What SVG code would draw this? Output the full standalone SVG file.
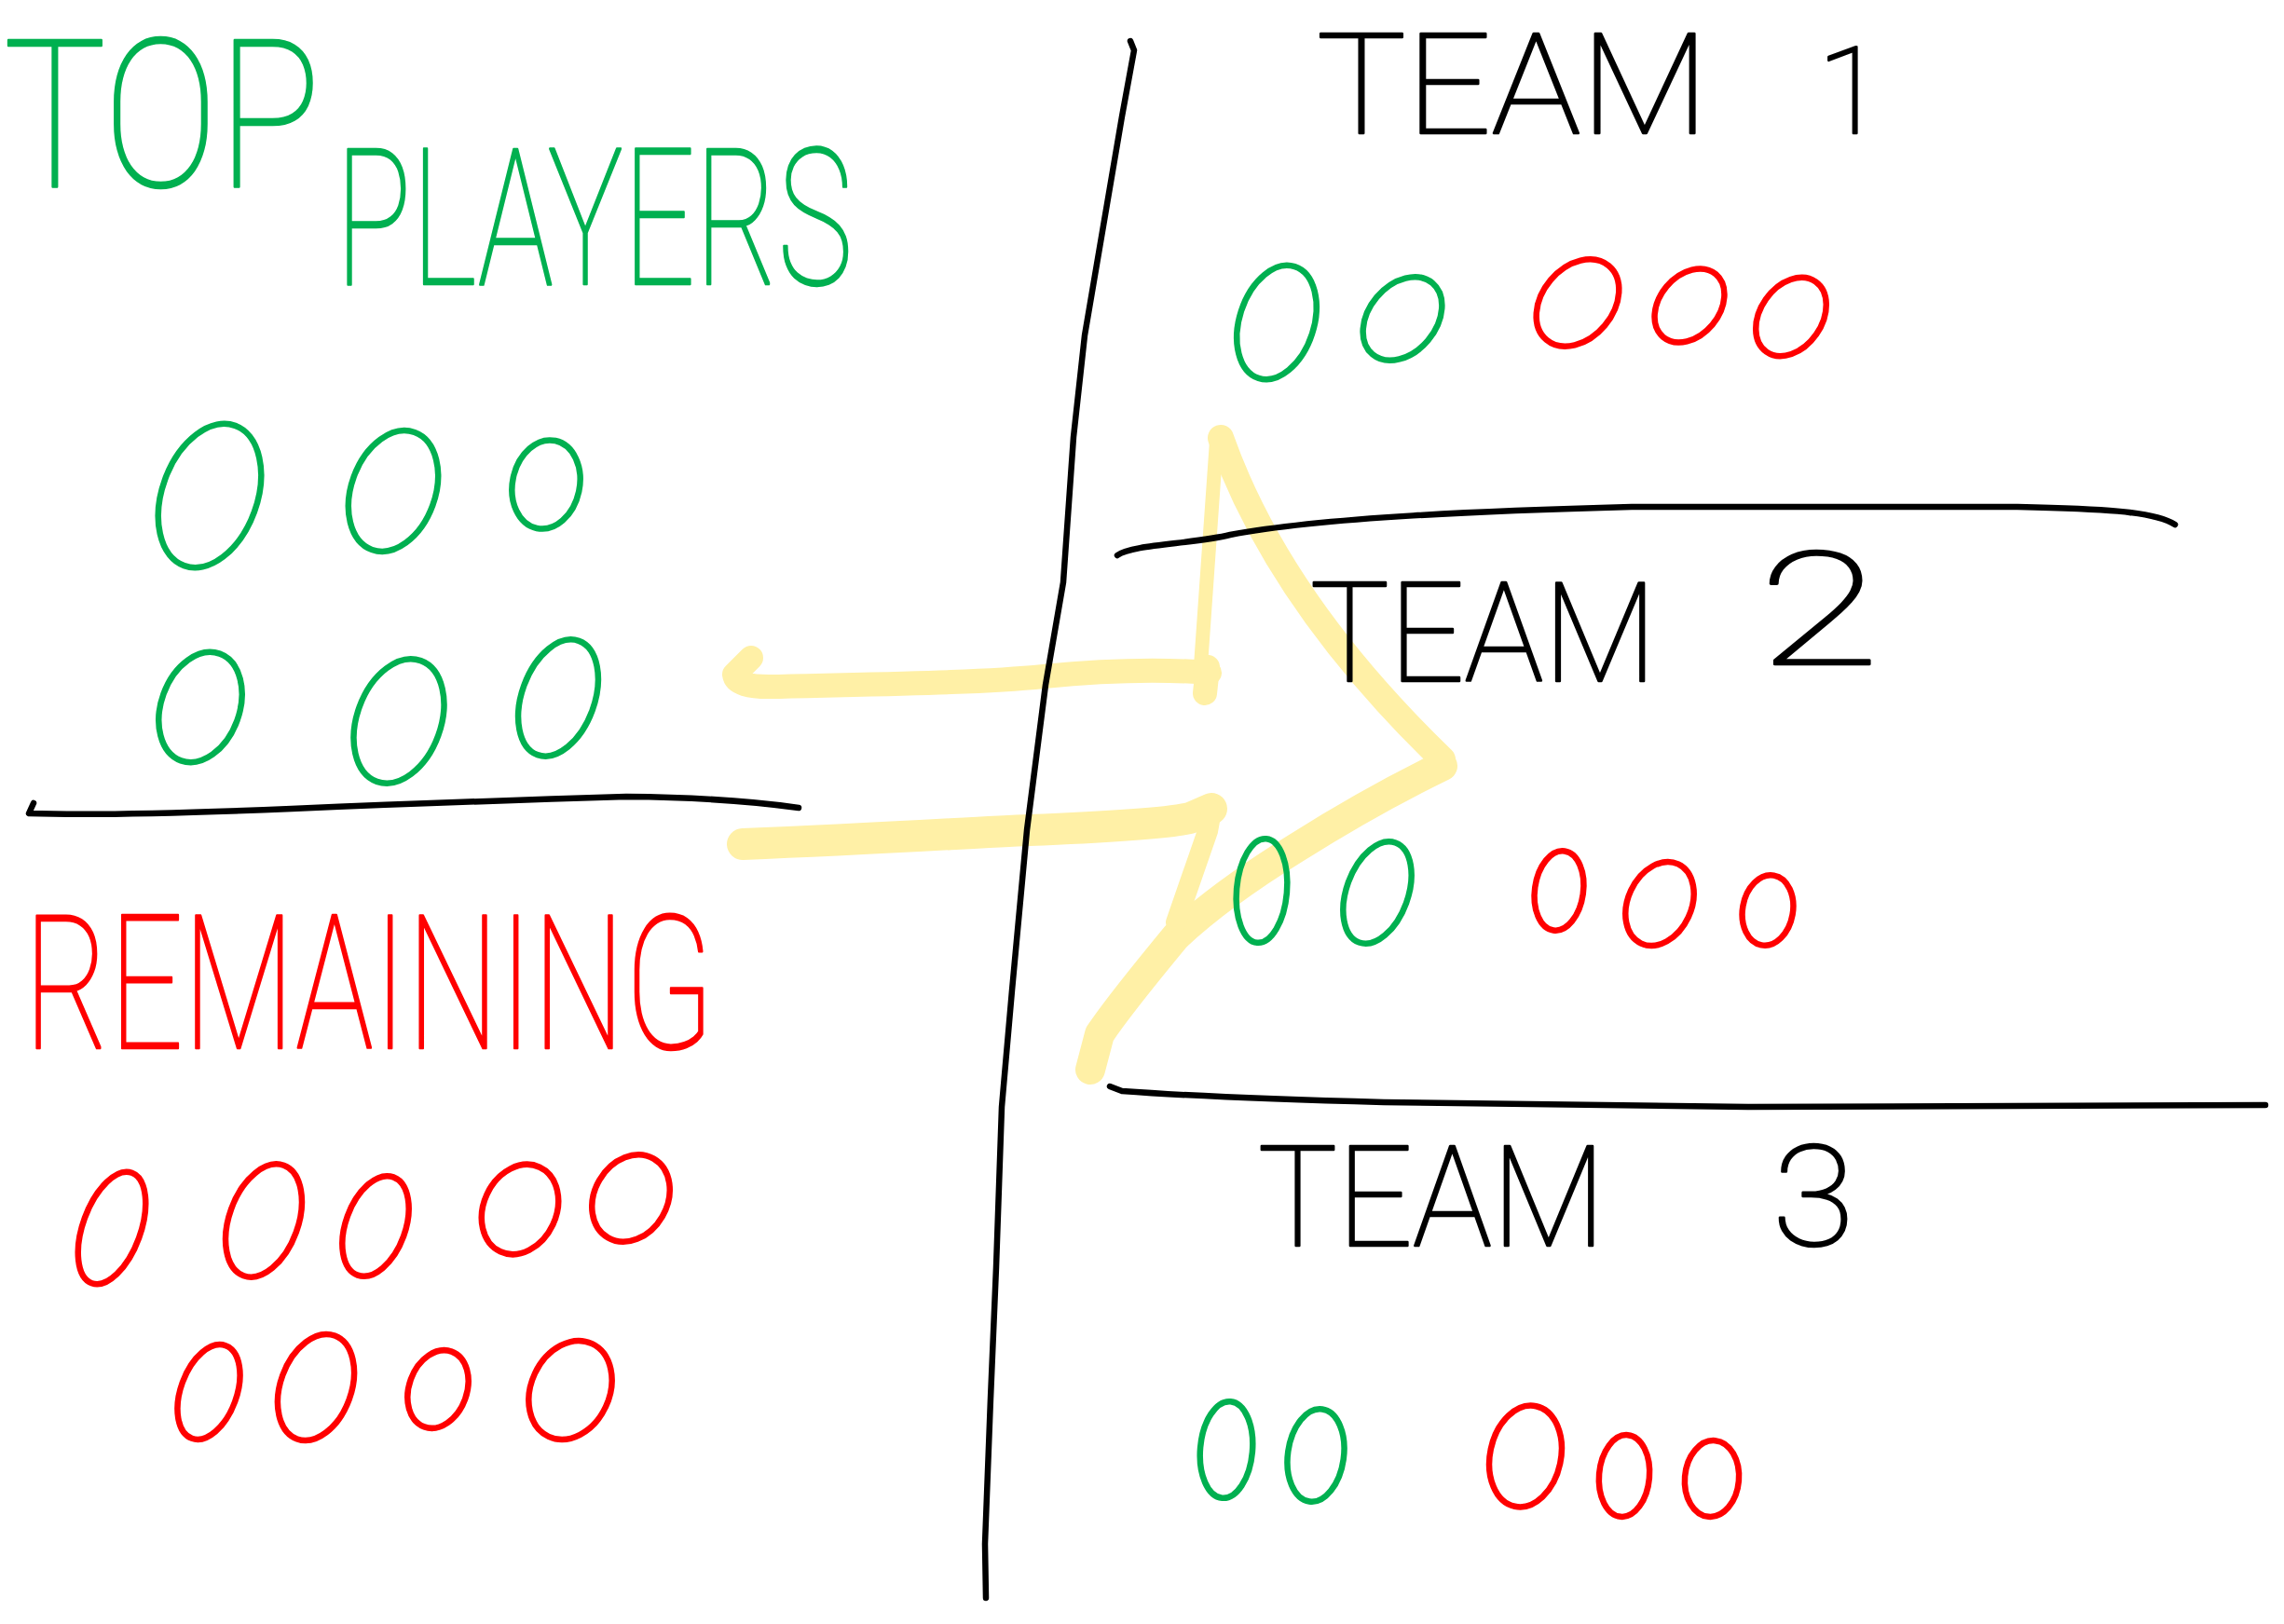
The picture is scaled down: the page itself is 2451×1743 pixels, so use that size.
<svg xmlns="http://www.w3.org/2000/svg" width="2451" height="1743" viewBox="0 0 2451 1743">
<style>
.hand{font-family:Roboto,Lato,Inter,"Liberation Sans",sans-serif;font-weight:100;stroke-width:2.6;stroke-linejoin:round;}
.g{fill:#00B050;stroke:#00B050;}
.r{fill:#FF0000;stroke:#FF0000;}
.k{fill:#000000;stroke:#000000;}
.gc{fill:none;stroke:#00B050;stroke-width:6.5;}
.rc{fill:none;stroke:#FF0000;stroke-width:6.5;}
.line{fill:none;stroke:#000;stroke-width:6.5;stroke-linecap:round;stroke-linejoin:round;}
.hl{fill:none;stroke:#FFF0A6;stroke-linecap:round;stroke-linejoin:round;}
</style>
<rect width="2451" height="1743" fill="#FFFFFF"/>

<g id="connectors">
  <path class="hl" stroke-width="26" d="M806,706 L788,724 Q790,738 830,737 C950,734 1050,733 1120,726 C1200,718 1260,719 1298,722"/>
  <path class="hl" stroke-width="26" d="M1296,716 L1293,744"/>
  <path class="hl" stroke-width="15" d="M1306,466 L1288,722"/>
  <path class="hl" stroke-width="28" d="M1310,470 Q1372,645 1548,815"/>
  <path class="hl" stroke-width="32" d="M1548,822 Q1470,860 1391,910 Q1310,960 1262,1005 Q1200,1080 1180,1110 L1170,1148"/>
  <path class="hl" stroke-width="34" d="M797,906 C950,900 1050,893 1104,891 C1180,888 1250,884 1277,878 L1300,868"/>
  <path class="hl" stroke-width="22" d="M1300,870 L1296,892 L1262,990"/>
</g>

<g id="dividers">
  <path class="line" d="M1213,44 L1217,54 L1204,125 L1188,219 L1164,360 L1152,469 L1141,625 L1122,735 L1102,891 L1086,1063 L1075,1188 L1069,1360 L1063,1501 L1057,1657 L1058,1715"/>
  <path class="line" d="M36,862 L31,873 Q120,876 313,868 T672,855 Q780,856 857,867"/>
  <path class="line" d="M1199,596 C1215,584 1280,584 1320,574 C1420,555 1600,548 1751,544 L2165,544 C2250,546 2310,548 2334,563"/>
  <path class="line" d="M1191,1166 L1204,1171 Q1300,1178 1485,1183 L1876,1188 L2431,1186"/>
</g>

<g id="top-players">
  <text class="hand g" x="4" y="200" font-size="220" textLength="340" lengthAdjust="spacingAndGlyphs">TOP</text>
  <text class="hand g" x="360" y="305" font-size="204" textLength="555" lengthAdjust="spacingAndGlyphs">PLAYERS</text>
  <ellipse class="gc" cx="225" cy="532" rx="51" ry="80" transform="rotate(20 225 532)"/>
  <ellipse class="gc" cx="422" cy="527" rx="45" ry="67" transform="rotate(20 422 527)"/>
  <ellipse class="gc" cx="586" cy="520" rx="36" ry="48" transform="rotate(12 586 520)"/>
  <ellipse class="gc" cx="215" cy="759" rx="42" ry="61" transform="rotate(20 215 759)"/>
  <ellipse class="gc" cx="428" cy="774" rx="45" ry="69" transform="rotate(20 428 774)"/>
  <ellipse class="gc" cx="599" cy="749" rx="39" ry="65" transform="rotate(20 599 749)"/>
</g>

<g id="remaining">
  <text class="hand r" x="26" y="1125" font-size="200" textLength="740" lengthAdjust="spacingAndGlyphs">REMAINING</text>
  <ellipse class="rc" cx="120" cy="1318" rx="31" ry="63" transform="rotate(20 120 1318)"/>
  <ellipse class="rc" cx="283" cy="1310" rx="37" ry="63" transform="rotate(20 283 1310)"/>
  <ellipse class="rc" cx="403" cy="1316" rx="32" ry="56" transform="rotate(20 403 1316)"/>
  <ellipse class="rc" cx="558" cy="1298" rx="39" ry="50" transform="rotate(25 558 1298)"/>
  <ellipse class="rc" cx="677" cy="1286" rx="39" ry="49" transform="rotate(30 677 1286)"/>
  <ellipse class="rc" cx="224" cy="1494" rx="30" ry="53" transform="rotate(20 224 1494)"/>
  <ellipse class="rc" cx="339" cy="1489" rx="38" ry="59" transform="rotate(20 339 1489)"/>
  <ellipse class="rc" cx="470" cy="1491" rx="31" ry="43" transform="rotate(20 470 1491)"/>
  <ellipse class="rc" cx="612" cy="1492" rx="42" ry="55" transform="rotate(25 612 1492)"/>
</g>

<g id="team1">
  <text class="hand k" x="1413" y="143" font-size="150" textLength="421" lengthAdjust="spacingAndGlyphs">TEAM</text>
  <text class="hand k" x="1986" y="143" font-size="130" text-anchor="middle">1</text>
  <ellipse class="gc" cx="1370" cy="346" rx="40" ry="63" transform="rotate(18 1370 346)"/>
  <ellipse class="gc" cx="1505" cy="342" rx="36" ry="50" transform="rotate(40 1505 342)"/>
  <ellipse class="rc" cx="1693" cy="325" rx="38" ry="52" transform="rotate(40 1693 325)"/>
  <ellipse class="rc" cx="1813" cy="328" rx="32" ry="44" transform="rotate(40 1813 328)"/>
  <ellipse class="rc" cx="1922" cy="340" rx="33" ry="46" transform="rotate(35 1922 340)"/>
</g>

<g id="team2">
  <text class="hand k" x="1406" y="731" font-size="148" textLength="372" lengthAdjust="spacingAndGlyphs">TEAM</text>
  <text class="hand k" x="1887" y="713" font-size="169" textLength="130" lengthAdjust="spacingAndGlyphs">2</text>
  <ellipse class="gc" cx="1354" cy="956" rx="27" ry="56" transform="rotate(5 1354 956)"/>
  <ellipse class="gc" cx="1478" cy="958" rx="33" ry="57" transform="rotate(20 1478 958)"/>
  <ellipse class="rc" cx="1673" cy="956" rx="26" ry="43" transform="rotate(8 1673 956)"/>
  <ellipse class="rc" cx="1781" cy="970" rx="34" ry="47" transform="rotate(25 1781 970)"/>
  <ellipse class="rc" cx="1897" cy="977" rx="27" ry="38" transform="rotate(10 1897 977)"/>
</g>

<g id="team3">
  <text class="hand k" x="1350" y="1337" font-size="150" textLength="373" lengthAdjust="spacingAndGlyphs">TEAM</text>
  <text class="hand k" x="1902" y="1337" font-size="150" textLength="88" lengthAdjust="spacingAndGlyphs">3</text>
  <ellipse class="gc" cx="1316" cy="1556" rx="28" ry="52" transform="rotate(5 1316 1556)"/>
  <ellipse class="gc" cx="1412" cy="1562" rx="30" ry="50" transform="rotate(8 1412 1562)"/>
  <ellipse class="rc" cx="1637" cy="1563" rx="38" ry="55" transform="rotate(12 1637 1563)"/>
  <ellipse class="rc" cx="1743" cy="1584" rx="27" ry="44" transform="rotate(5 1743 1584)"/>
  <ellipse class="rc" cx="1837" cy="1587" rx="29" ry="41" transform="rotate(5 1837 1587)"/>
</g>
</svg>
